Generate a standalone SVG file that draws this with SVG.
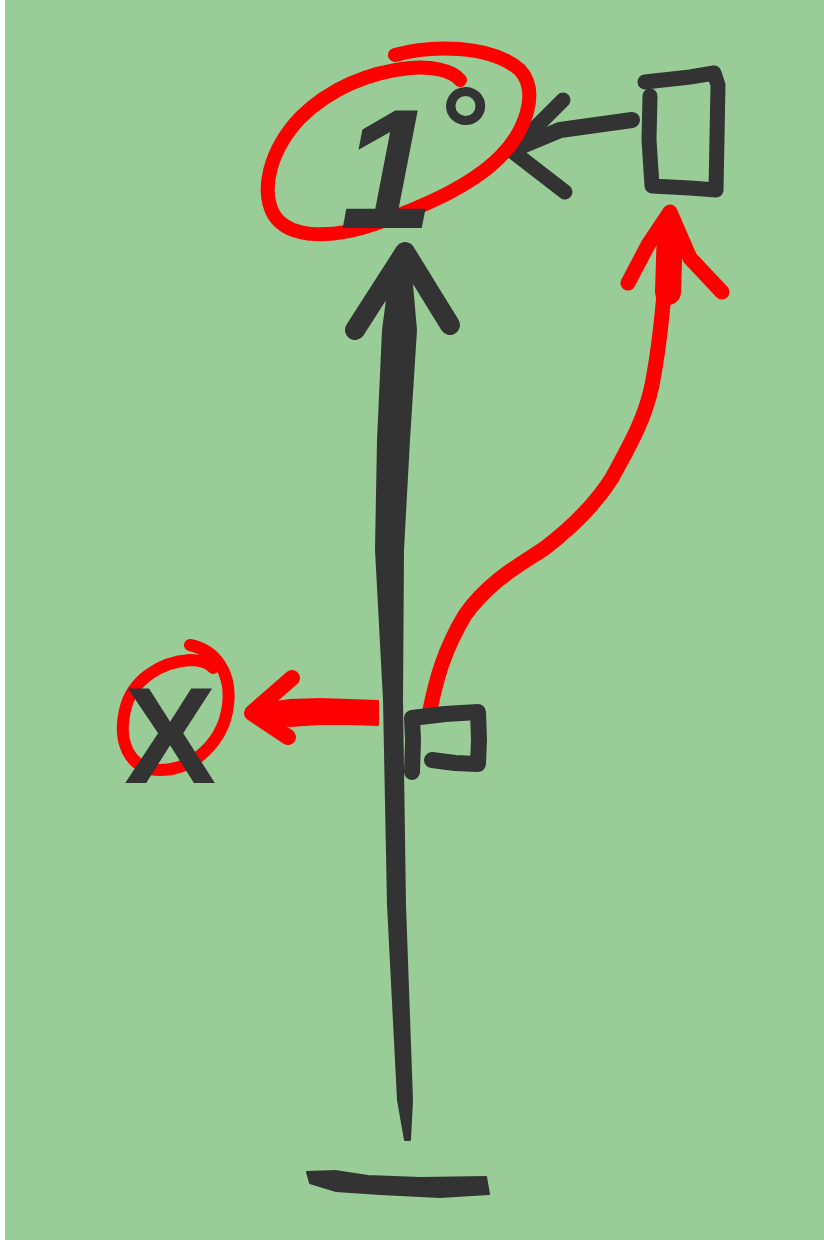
<svg xmlns="http://www.w3.org/2000/svg" width="824" height="1240" viewBox="0 0 824 1240">
<style>
.ink{fill:none;stroke:#333333;stroke-linecap:round;stroke-linejoin:round}
.inkf{fill:#333333;stroke:#333333;stroke-width:2;stroke-linejoin:round}
.red{fill:none;stroke:#ff0000;stroke-linecap:round;stroke-linejoin:round}
.redf{fill:#ff0000;stroke:#ff0000;stroke-width:2;stroke-linejoin:round}
.lbl{font-family:"Liberation Sans","DejaVu Sans",sans-serif;font-weight:bold;fill:#333333}
</style>
<rect x="0" y="0" width="824" height="1240" fill="#ffffff"/>
<rect x="5" y="0" width="819" height="1240" fill="#9acc98"/>

<g id="connectors">
  <!-- main vertical arrow from base up to 1° -->
  <polygon id="c-main" class="inkf" points="405,1140 398,1100 388,905 384,700 376,550 378,440 383,330 392,262 400,255 410,262 416,330 409,440 403,550 402,700 405,905 412,1100 410,1140"/>
  <polyline id="c-main-head" class="ink" stroke-width="20" points="355,330 405,252 450,325"/>
  <!-- arrow from rectangle to 1° -->
  <path id="c-rect-1" class="ink" stroke-width="16" d="M632,120 L560,130 L512,150"/>
  <polyline id="c-rect-1-head" class="ink" stroke-width="15" points="563,100 512,151 565,192"/>
  <!-- red curved arrow from small square up to rectangle -->
  <path id="c-sq-rect" class="red" stroke-width="15" d="M430,710 C436,680 444,650 465,615 C490,580 520,565 545,548 C575,525 598,500 612,478 C628,448 645,420 652,385 C660,345 664,300 667,255"/>
  <path class="red" stroke-width="26" d="M668,292 L670,228"/>
  <polyline id="c-sq-rect-head" class="red" stroke-width="15" points="628,283 648,245 670,212 690,258 722,292"/>
  <!-- red arrow from main line to X -->
  <path id="c-main-x" class="redf" d="M378,701 L350,700 L320,699 L290,700 L262,704 L250,713 L262,721 L290,726 L320,724 L350,724 L378,725 Z"/>
  <polyline id="c-main-x-head" class="red" stroke-width="16" points="292,678 252,713 288,737"/>
</g>

<g id="node-1deg">
  <path class="red" stroke-width="14" d="M395,55 C430,45 490,44 520,70 C540,92 525,132 500,157 C470,187 420,208 375,224 C335,238 290,240 274,215 C260,190 270,150 300,118 C330,88 370,72 410,68 C430,66 452,70 460,80"/>
  <text class="lbl" font-style="italic" x="340" y="228" font-size="170">1<tspan font-size="125" dy="-55">°</tspan></text>
</g>

<g id="node-rect">
  <path class="ink" stroke-width="15" d="M645,82 L690,77 L714,73 L718,85 L716,190 L690,188 L652,186 L649,140 L650,96"/>
</g>

<g id="node-square">
  <path class="ink" stroke-width="16" d="M412,772 L413,740 L412,718 L445,714 L478,712 L479,740 L478,764 L455,763 L432,760"/>
</g>

<g id="node-x">
  <path class="red" stroke-width="12" d="M190,645 C215,650 232,672 228,705 C224,740 195,770 160,770 C128,770 118,740 125,710 C132,680 160,662 190,660 C202,660 210,664 213,668"/>
  <text class="lbl" x="124" y="783" font-size="138">X</text>
</g>

<g id="node-base">
  <polygon class="inkf" points="307,1172 335,1171 368,1176 420,1178 486,1177 489,1194 440,1197 380,1194 336,1191 310,1183"/>
</g>
</svg>
